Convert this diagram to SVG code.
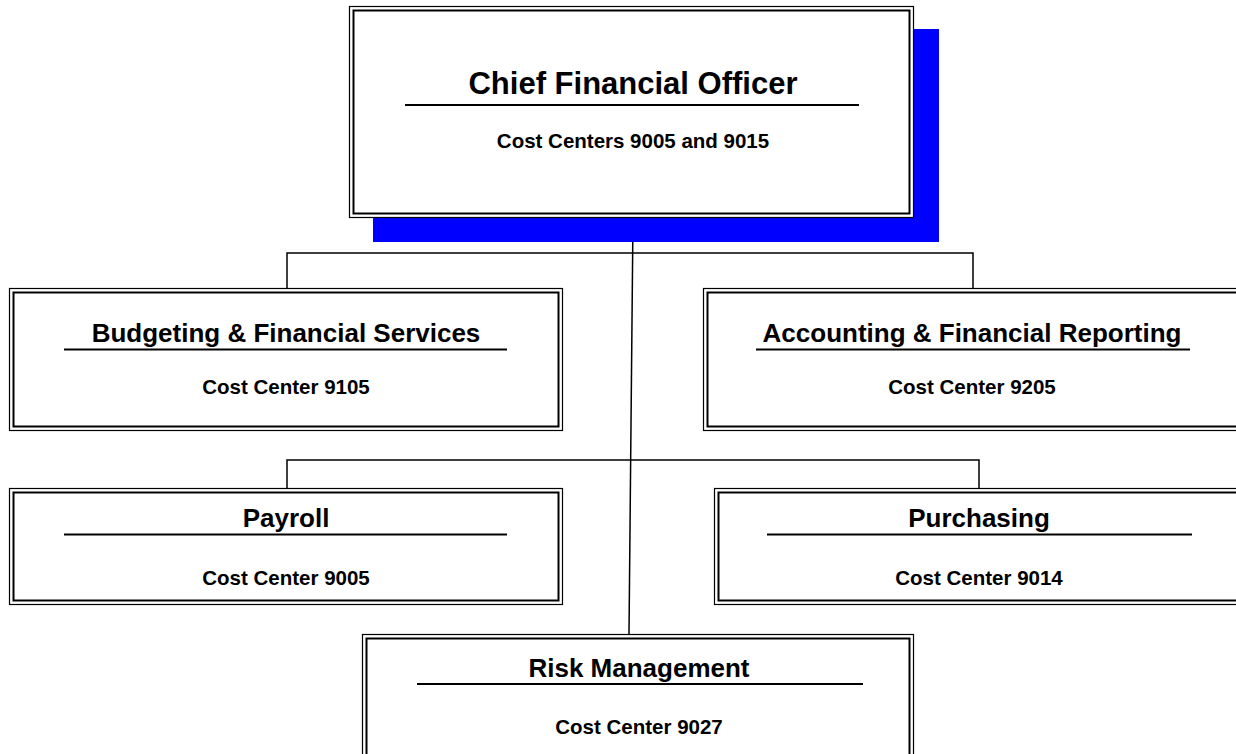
<svg xmlns="http://www.w3.org/2000/svg" width="1236" height="754" viewBox="0 0 1236 754">
<style>
.bg{fill:#fff}
.outer{fill:#fff;stroke:#000;stroke-width:1.2}
.inner{fill:none;stroke:#000;stroke-width:2}
.ul{stroke:#000;stroke-width:1.8}
.conn{fill:none;stroke:#000;stroke-width:1.5}
.t{font-family:"Liberation Sans",Arial,sans-serif;font-weight:bold;fill:#000;text-anchor:middle}
.h{font-size:26px}
.s{font-size:20.5px}
</style>
<rect class="bg" x="0" y="0" width="1236" height="754"/>
<g id="connectors">
<path class="conn" d="M633 217 L629 634"/>
<path class="conn" d="M287 288 V253 H973 V288"/>
<path class="conn" d="M287 488 V460 H979 V488"/>
</g>
<g id="cfo">
<rect x="373" y="29" width="566" height="213" fill="#0000ff"/>
<rect class="outer" x="349.5" y="6.5" width="564" height="211"/>
<rect class="inner" x="353.5" y="10.5" width="556" height="203"/>
<text class="t" x="633" y="94" font-size="31">Chief Financial Officer</text>
<line class="ul" x1="405" y1="105" x2="859" y2="105"/>
<text class="t s" x="633" y="148">Cost Centers 9005 and 9015</text>
</g>
<g id="budgeting">
<rect class="outer" x="9.5" y="288.5" width="553" height="142"/>
<rect class="inner" x="13.5" y="292.5" width="545" height="134"/>
<text class="t h" x="286" y="342">Budgeting &amp; Financial Services</text>
<line class="ul" x1="64" y1="349.5" x2="507" y2="349.5"/>
<text class="t s" x="286" y="394">Cost Center 9105</text>
</g>
<g id="accounting">
<rect class="outer" x="703.5" y="288.5" width="560" height="142"/>
<rect class="inner" x="707.5" y="292.5" width="552" height="134"/>
<text class="t h" x="972" y="342">Accounting &amp; Financial Reporting</text>
<line class="ul" x1="756" y1="349.5" x2="1190" y2="349.5"/>
<text class="t s" x="972" y="394">Cost Center 9205</text>
</g>
<g id="payroll">
<rect class="outer" x="9.5" y="488.5" width="553" height="116"/>
<rect class="inner" x="13.5" y="492.5" width="545" height="108"/>
<text class="t h" x="286" y="527">Payroll</text>
<line class="ul" x1="64" y1="534.5" x2="507" y2="534.5"/>
<text class="t s" x="286" y="585">Cost Center 9005</text>
</g>
<g id="purchasing">
<rect class="outer" x="714.5" y="488.5" width="550" height="116"/>
<rect class="inner" x="718.5" y="492.5" width="542" height="108"/>
<text class="t h" x="979" y="527">Purchasing</text>
<line class="ul" x1="767" y1="534.5" x2="1192" y2="534.5"/>
<text class="t s" x="979" y="585">Cost Center 9014</text>
</g>
<g id="risk">
<rect class="outer" x="362.5" y="634.5" width="551" height="140"/>
<rect class="inner" x="366.5" y="638.5" width="543" height="132"/>
<text class="t h" x="639" y="677">Risk Management</text>
<line class="ul" x1="417" y1="684" x2="863" y2="684"/>
<text class="t s" x="639" y="734">Cost Center 9027</text>
</g>
</svg>
